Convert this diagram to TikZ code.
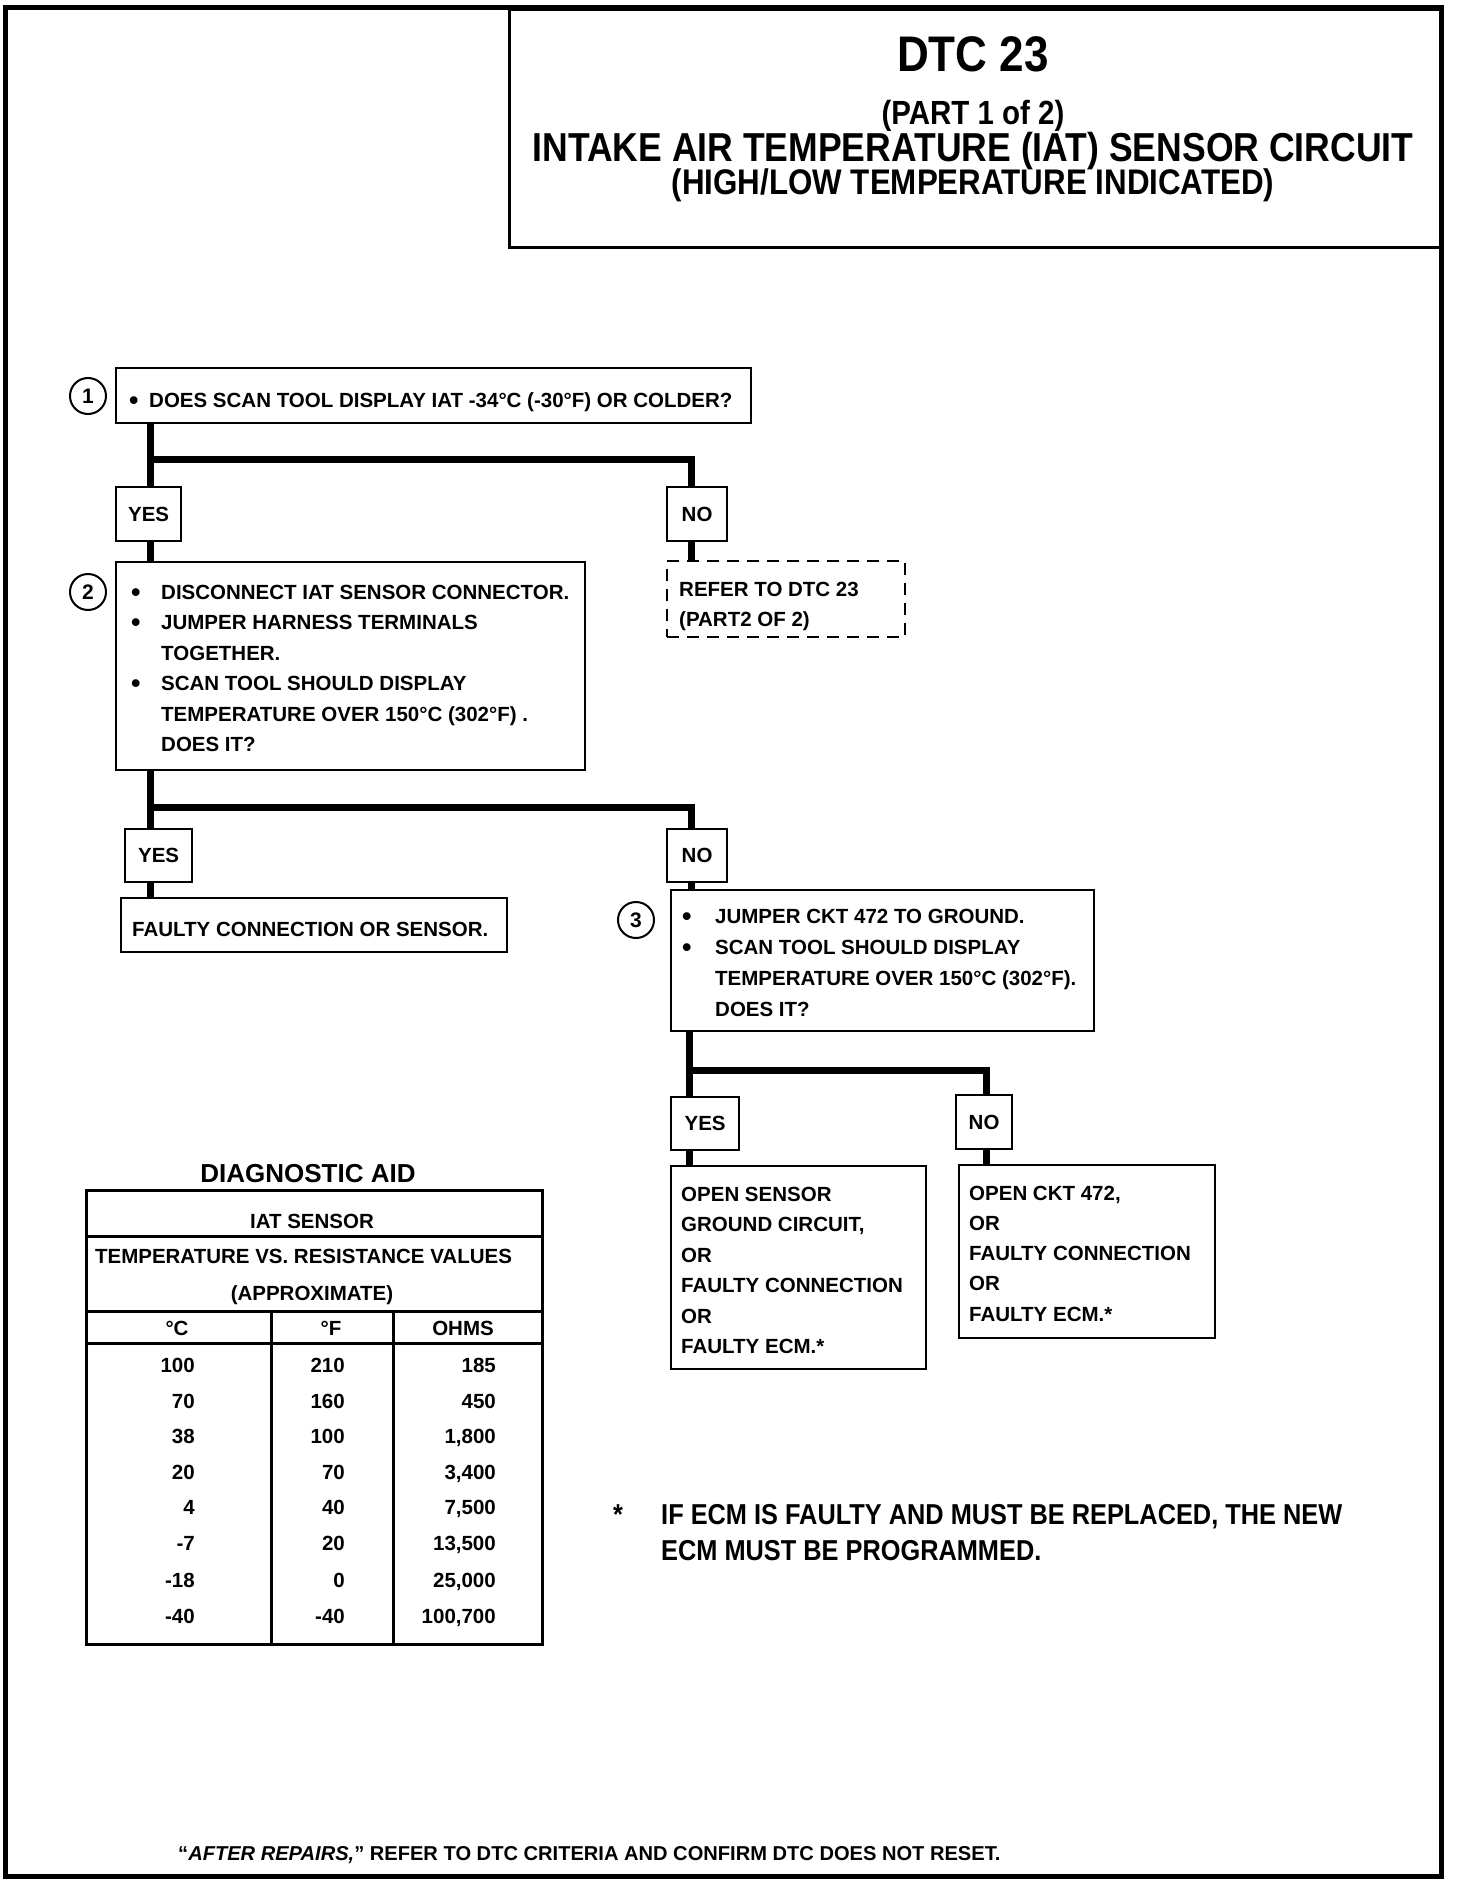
\documentclass[tikz,border=0pt]{standalone}
\usepackage{fontspec}
\setmainfont{Liberation Sans}
\newfontfamily\ttlf{Liberation Sans}[FakeStretch=0.88]
\newcommand\bodyfont{\fontsize{20.5}{30.5}\selectfont\bfseries}
\newcommand\blt[1]{\makebox[#1][l]{\raisebox{-2.4pt}{\fontsize{27}{27}\selectfont\textbullet}}}
\begin{document}
\begin{tikzpicture}[x=1pt,y=-1pt,
  box/.style={draw,line width=2.2pt,anchor=north west,inner sep=0pt},
  btxt/.style={inner sep=0pt,anchor=north west,align=left,font=\bodyfont},
  lbl/.style={draw,line width=2.2pt,anchor=north west,inner sep=0pt,font=\bodyfont},
  conn/.style={line width=7pt,line join=miter},
  num/.style={draw,circle,line width=2pt,minimum size=36pt,inner sep=0pt,font=\fontsize{21}{21}\selectfont\bfseries},
  txt/.style={inner sep=0pt,font=\bodyfont},
  tline/.style={line width=3pt}
]
\useasboundingbox (0,0) rectangle (1456,1886);
\draw[line width=5pt] (5,8) rectangle (1441,1876);

% title
\node[draw,line width=3pt,anchor=north west,minimum width=933pt,minimum height=238pt,inner sep=0pt] (ttl) at (508,8) {};
\node[inner sep=0pt,anchor=base,font=\ttlf\fontsize{50}{50}\selectfont\bfseries] (t1) at (973,72) {DTC 23};
\node[inner sep=0pt,anchor=base,font=\ttlf\fontsize{33.5}{33.5}\selectfont\bfseries] (t2) at (973,124.5) {(PART 1 of 2)};
\node[inner sep=0pt,anchor=base,font=\ttlf\fontsize{40.4}{40.4}\selectfont\bfseries] (t3) at (973,162) {INTAKE AIR TEMPERATURE (IAT) SENSOR CIRCUIT};
\node[inner sep=0pt,anchor=base,font=\ttlf\fontsize{35.6}{35.6}\selectfont\bfseries] (t4) at (973,195) {(HIGH/LOW TEMPERATURE INDICATED)};

% step 1
\node[box,minimum width=635pt,minimum height=55pt] (b1) at (115,367) {};
\node[btxt] (b1t) at (129,392.5) {\blt{20pt}DOES SCAN TOOL DISPLAY IAT -34°C (-30°F) OR COLDER?};
\node[num] (c1) at (88,396) {1};
\node[lbl,minimum width=65pt,minimum height=54pt] (yes1) at (115,486) {YES};
\node[lbl,minimum width=60pt,minimum height=54pt] (no1) at (666,486) {NO};

% step 2
\node[box,minimum width=469pt,minimum height=208pt] (b2) at (115,561) {};
\node[btxt] (b2t) at (131,584.5)
  {\blt{30pt}DISCONNECT IAT SENSOR CONNECTOR.\\
   \blt{30pt}JUMPER HARNESS TERMINALS\\
   \hspace*{30pt}TOGETHER.\\
   \blt{30pt}SCAN TOOL SHOULD DISPLAY\\
   \hspace*{30pt}TEMPERATURE OVER 150°C (302°F) .\\
   \hspace*{30pt}DOES IT?};
\node[num] (c2) at (88,592) {2};
\node[box,dash pattern=on 12pt off 8pt,line width=2pt,minimum width=238pt,minimum height=76pt] (ref) at (666,560) {};
\node[btxt] (reft) at (679,581.5) {REFER TO DTC 23\\(PART2 OF 2)};
\node[lbl,minimum width=67pt,minimum height=53pt] (yes2) at (124,828) {YES};
\node[lbl,minimum width=60pt,minimum height=53pt] (no2) at (666,828) {NO};
\node[box,minimum width=386pt,minimum height=54pt] (fault) at (120,897) {};
\node[btxt] (faultt) at (132,921.5) {FAULTY CONNECTION OR SENSOR.};

% step 3
\node[box,minimum width=423pt,minimum height=141pt] (b3) at (670,889) {};
\node[btxt,font=\fontsize{20.5}{31}\selectfont\bfseries] (b3t) at (682,908.5)
  {\blt{33pt}JUMPER CKT 472 TO GROUND.\\
   \blt{33pt}SCAN TOOL SHOULD DISPLAY\\
   \hspace*{33pt}TEMPERATURE OVER 150°C (302°F).\\
   \hspace*{33pt}DOES IT?};
\node[num] (c3) at (636,920) {3};
\node[lbl,minimum width=68pt,minimum height=53pt] (yes3) at (670,1096) {YES};
\node[lbl,minimum width=56pt,minimum height=54pt] (no3) at (955,1094) {NO};
\node[box,minimum width=255pt,minimum height=203pt] (r1) at (670,1165) {};
\node[btxt,font=\fontsize{20.5}{30.5}\selectfont\bfseries] (r1t) at (681,1186.5)
  {OPEN SENSOR\\GROUND CIRCUIT,\\OR\\FAULTY CONNECTION\\OR\\FAULTY ECM.*};
\node[box,minimum width=256pt,minimum height=173pt] (r2) at (958,1164) {};
\node[btxt,font=\fontsize{20.5}{30.3}\selectfont\bfseries] (r2t) at (969,1185.5)
  {OPEN CKT 472,\\OR\\FAULTY CONNECTION\\OR\\FAULTY ECM.*};

% connectors
\coordinate (j1) at (150,459); \coordinate (k1) at (691,459);
\draw[conn] (b1.south -| j1) -- (yes1.north -| j1);
\draw[conn] (j1) -- (k1) -- (no1.north -| k1);
\draw[conn] (yes1.south -| j1) -- (b2.north -| j1);
\draw[conn] (no1.south -| k1) -- (ref.north -| k1);

\coordinate (j2) at (150,807); \coordinate (k2) at (691,807);
\draw[conn] (b2.south -| j2) -- (yes2.north -| j2);
\draw[conn] (j2) -- (k2) -- (no2.north -| k2);
\draw[conn] (yes2.south -| j2) -- (fault.north -| j2);
\draw[conn] (no2.south -| k2) -- (b3.north -| k2);

\coordinate (j3) at (689,1070); \coordinate (k3) at (986,1070);
\draw[conn] (b3.south -| j3) -- (yes3.north -| j3);
\draw[conn] (j3) -- (k3) -- (no3.north -| k3);
\draw[conn] (yes3.south -| j3) -- (r1.north -| j3);
\draw[conn] (no3.south -| k3) -- (r2.north -| k3);

% diagnostic aid table
\node[inner sep=0pt,anchor=base,font=\fontsize{26}{26}\selectfont\bfseries] (dtitle) at (308,1182) {DIAGNOSTIC AID};
\node[draw,line width=3pt,anchor=north west,minimum width=456pt,minimum height=454pt,inner sep=0pt] (tbl) at (85,1189) {};
\draw[tline] (85,1236) -- (541,1236);
\draw[tline] (85,1311) -- (541,1311);
\draw[tline] (85,1343) -- (541,1343);
\draw[tline] (271,1311) -- (271,1643);
\draw[tline] (393,1311) -- (393,1643);
\node[txt,anchor=base] (h1) at (312,1228.5) {IAT SENSOR};
\node[txt,anchor=base] (h2) at (303.5,1263.5) {TEMPERATURE VS. RESISTANCE VALUES};
\node[txt,anchor=base] (h3) at (312,1300.5) {(APPROXIMATE)};
\node[txt,anchor=base] (hc) at (177,1335.5) {°C};
\node[txt,anchor=base] (hf) at (331,1335.5) {°F};
\node[txt,anchor=base] (ho) at (463,1335.5) {OHMS};
\foreach \c/\f/\o/\y [count=\i] in {100/210/185/1365,70/160/450/1401,38/100/{1,800}/1436,20/70/{3,400}/1472,4/40/{7,500}/1507,-7/20/{13,500}/1543,-18/0/{25,000}/1580,-40/-40/{100,700}/1616}{
  \node[txt,anchor=base east] (dc\i) at (195,\y+7.3) {\c};
  \node[txt,anchor=base east] (df\i) at (345,\y+7.3) {\f};
  \node[txt,anchor=base east] (do\i) at (496,\y+7.3) {\o};
}

% footnote
\node[inner sep=0pt,anchor=base,font=\ttlf\fontsize{28.8}{30}\selectfont\bfseries] (star) at (618,1524) {*};
\node[inner sep=0pt,anchor=base west,font=\ttlf\fontsize{28.8}{30}\selectfont\bfseries] (fn1) at (661,1524) {IF ECM IS FAULTY AND MUST BE REPLACED, THE NEW};
\node[inner sep=0pt,anchor=base west,font=\ttlf\fontsize{28.8}{30}\selectfont\bfseries] (fn2) at (661,1560) {ECM MUST BE PROGRAMMED.};

% bottom note
\node[inner sep=0pt,anchor=base west,font=\fontsize{20.1}{22}\selectfont\bfseries] (note) at (178,1860)
  {“\textit{AFTER REPAIRS,}” REFER TO DTC CRITERIA AND CONFIRM DTC DOES NOT RESET.};
\end{tikzpicture}
\end{document}
